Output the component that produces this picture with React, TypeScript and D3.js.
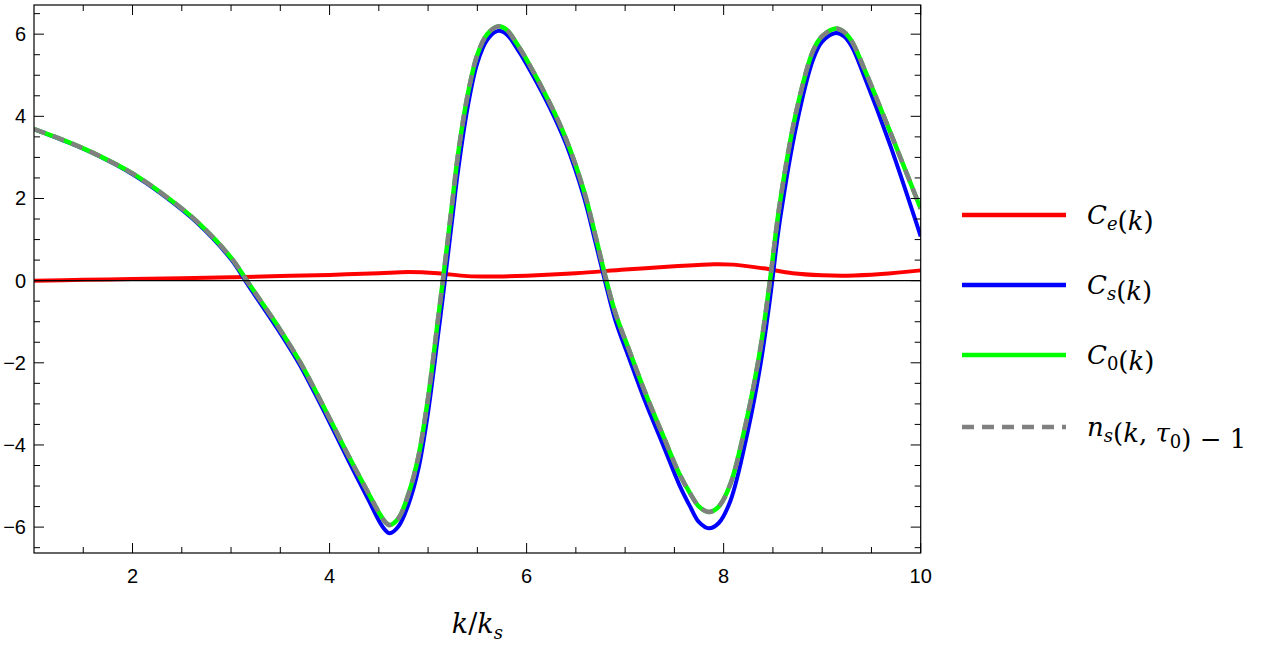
import React from "react";
import * as d3 from "d3";

// k grid shared by the three oscillating curves
const kGrid = [
  1.0, 1.3, 1.6, 2.0, 2.3, 2.65, 3.0, 3.16, 3.3, 3.5,
  3.7, 3.85, 4.0, 4.2, 4.4, 4.5, 4.56, 4.61, 4.7, 4.8,
  4.9, 5.0, 5.1, 5.15, 5.25, 5.3, 5.4, 5.5, 5.6, 5.71,
  5.8, 5.9, 6.0, 6.24, 6.4, 6.58, 6.7, 6.81, 6.9, 7.05,
  7.2, 7.39, 7.55, 7.66, 7.75, 7.85, 7.95, 8.07, 8.24, 8.37,
  8.47, 8.57, 8.74, 8.91, 9.0, 9.14, 9.22, 9.3, 9.42, 9.69,
  10.0,
];

const cZero = [
  3.69, 3.42, 3.11, 2.61, 2.12, 1.45, 0.56, 0.0, -0.49, -1.2,
  -1.98, -2.65, -3.35, -4.3, -5.2, -5.64, -5.86, -5.95, -5.78, -5.2,
  -4.3, -2.85, -0.95, 0.0, 2.0, 3.0, 4.5, 5.5, 6.0, 6.19,
  6.1, 5.77, 5.38, 4.3, 3.45, 2.2, 1.08, 0.0, -0.78, -1.75,
  -2.7, -3.8, -4.7, -5.18, -5.5, -5.63, -5.5, -4.94, -3.31, -1.69,
  0.0, 1.88, 4.15, 5.61, 5.95, 6.14, 6.06, 5.83, 5.2, 3.62,
  1.75,
];

const nsMinusOne = [
  3.69, 3.42, 3.11, 2.61, 2.12, 1.45, 0.56, 0.0, -0.49, -1.2,
  -1.98, -2.65, -3.35, -4.3, -5.2, -5.64, -5.86, -5.95, -5.78, -5.2,
  -4.3, -2.85, -0.95, 0.0, 2.0, 3.0, 4.5, 5.5, 6.0, 6.19,
  6.1, 5.77, 5.38, 4.3, 3.45, 2.2, 1.08, 0.0, -0.78, -1.75,
  -2.7, -3.8, -4.7, -5.18, -5.5, -5.63, -5.5, -4.94, -3.31, -1.69,
  0.0, 1.88, 4.15, 5.61, 5.95, 6.14, 6.06, 5.83, 5.2, 3.62,
  1.75,
];

const cS = [
  3.69, 3.41, 3.1, 2.59, 2.1, 1.42, 0.52, -0.06, -0.56, -1.28,
  -2.06, -2.74, -3.45, -4.42, -5.36, -5.84, -6.06, -6.15, -5.98, -5.45,
  -4.6, -3.2, -1.35, -0.4, 1.6, 2.6, 4.2, 5.3, 5.86, 6.08,
  5.99, 5.66, 5.27, 4.19, 3.33, 2.05, 0.92, -0.15, -0.96, -1.95,
  -2.92, -4.03, -4.97, -5.5, -5.88, -6.03, -5.9, -5.35, -3.72, -2.1,
  -0.45, 1.45, 3.8, 5.4, 5.82, 6.03, 5.95, 5.7, 5.02, 3.3,
  1.08,
];

// C_e has its own, coarser grid
const kE = [1, 1.5, 2, 2.5, 3, 3.5, 4, 4.5, 4.8, 5.1, 5.4, 5.7, 6.0, 6.5, 7.0, 7.5, 7.9, 8.1, 8.4, 8.7, 9.0, 9.25, 9.6, 10];
const cE = [0.0, 0.02, 0.04, 0.06, 0.08, 0.11, 0.14, 0.18, 0.21, 0.18, 0.11, 0.1, 0.12, 0.18, 0.27, 0.35, 0.4, 0.39, 0.3, 0.18, 0.13, 0.12, 0.16, 0.25];

const xMajor = [2, 4, 6, 8, 10];
const yMajor = [-6, -4, -2, 0, 2, 4, 6];

const W = 1264;
const H = 652;
const plot = { left: 34, right: 920.7, top: 5, bottom: 553 };

const mathFont = "'DejaVu Serif', 'Liberation Serif', serif";

function Sub({ children, italic = true }: { children: React.ReactNode; italic?: boolean }) {
  return (
    <>
      <tspan fontSize="18" dy="6" fontStyle={italic ? "italic" : "normal"}>{children}</tspan>
      <tspan dy="-6"></tspan>
    </>
  );
}

export default function App() {
  const x = d3.scaleLinear().domain([1, 10]).range([plot.left, plot.right]);
  const y = d3.scaleLinear().domain([-6.63, 6.71]).range([plot.bottom, plot.top]);

  const line = (ks: number[], vs: number[]) =>
    d3
      .line<number>()
      .x((_, i) => x(ks[i]))
      .y((v) => y(v))
      .curve(d3.curveCatmullRom.alpha(0.5))(vs) as string;

  const xMinor = d3.range(1.5, 10, 0.5).filter((v) => !xMajor.includes(v));
  const yMinor = d3.range(-6.5, 6.6, 0.5).filter((v) => !yMajor.includes(v));

  const maj = 10;
  const min = 6;

  const legend = [
    { color: "#ff0000", dash: null, label: <><tspan fontStyle="italic">C</tspan><Sub>e</Sub>(<tspan fontStyle="italic">k</tspan>)</> },
    { color: "#0000ff", dash: null, label: <><tspan fontStyle="italic">C</tspan><Sub>s</Sub>(<tspan fontStyle="italic">k</tspan>)</> },
    { color: "#00ff00", dash: null, label: <><tspan fontStyle="italic">C</tspan><Sub italic={false}>0</Sub>(<tspan fontStyle="italic">k</tspan>)</> },
    {
      color: "#808080",
      dash: "12,8",
      label: (
        <>
          <tspan fontStyle="italic">n</tspan><Sub>s</Sub>(<tspan fontStyle="italic">k</tspan>, <tspan fontStyle="italic">τ</tspan><Sub italic={false}>0</Sub>) − 1
        </>
      ),
    },
  ];
  const legendY = [215, 285, 355, 427];

  return (
    <svg width={W} height={H} style={{ position: "absolute", left: 0, top: 0, background: "#fff" }}>
      <defs>
        <clipPath id="plotClip">
          <rect x={plot.left} y={plot.top} width={plot.right - plot.left} height={plot.bottom - plot.top} />
        </clipPath>
      </defs>

      <g clipPath="url(#plotClip)" fill="none" strokeLinejoin="round">
        <path d={line(kE, cE)} stroke="#ff0000" strokeWidth={4} />
        <path d={line(kGrid, cS)} stroke="#0000ff" strokeWidth={4} />
        <path d={line(kGrid, cZero)} stroke="#00ff00" strokeWidth={4.5} />
        <path d={line(kGrid, nsMinusOne)} stroke="#808080" strokeWidth={4.5} strokeDasharray="12,8" />
        <line x1={plot.left} x2={plot.right} y1={y(0)} y2={y(0)} stroke="#000" strokeWidth={1.2} />
      </g>

      {/* frame */}
      <rect x={plot.left} y={plot.top} width={plot.right - plot.left} height={plot.bottom - plot.top} fill="none" stroke="#000" strokeWidth={1.2} />

      {/* ticks on all four sides, pointing inward */}
      <g stroke="#000" strokeWidth={1}>
        {xMajor.map((v) => (
          <g key={"xM" + v}>
            <line x1={x(v)} x2={x(v)} y1={plot.bottom} y2={plot.bottom - maj} />
            <line x1={x(v)} x2={x(v)} y1={plot.top} y2={plot.top + maj} />
          </g>
        ))}
        {xMinor.map((v) => (
          <g key={"xm" + v}>
            <line x1={x(v)} x2={x(v)} y1={plot.bottom} y2={plot.bottom - min} />
            <line x1={x(v)} x2={x(v)} y1={plot.top} y2={plot.top + min} />
          </g>
        ))}
        {yMajor.map((v) => (
          <g key={"yM" + v}>
            <line x1={plot.left} x2={plot.left + maj} y1={y(v)} y2={y(v)} />
            <line x1={plot.right} x2={plot.right - maj} y1={y(v)} y2={y(v)} />
          </g>
        ))}
        {yMinor.map((v) => (
          <g key={"ym" + v}>
            <line x1={plot.left} x2={plot.left + min} y1={y(v)} y2={y(v)} />
            <line x1={plot.right} x2={plot.right - min} y1={y(v)} y2={y(v)} />
          </g>
        ))}
      </g>

      {/* tick labels */}
      <g fontFamily="'Liberation Sans', Arial, sans-serif" fontSize={20} fill="#000">
        {xMajor.map((v) => (
          <text key={"xl" + v} x={x(v)} y={plot.bottom + 30} textAnchor="middle">
            {v}
          </text>
        ))}
        {yMajor.map((v) => (
          <text key={"yl" + v} x={plot.left - 8} y={y(v) + 7} textAnchor="end">
            {v < 0 ? "−" + Math.abs(v) : String(v)}
          </text>
        ))}
      </g>

      {/* x axis label */}
      <text x={(plot.left + plot.right) / 2} y={633} textAnchor="middle" fontFamily={mathFont} fontSize={27}>
        <tspan fontStyle="italic">k</tspan>/<tspan fontStyle="italic">k</tspan>
        <Sub>s</Sub>
      </text>

      {/* legend */}
      <g fontFamily={mathFont} fontSize={26} fill="#000">
        {legend.map((d, i) => (
          <g key={i}>
            <line
              x1={962}
              x2={1066}
              y1={legendY[i]}
              y2={legendY[i]}
              stroke={d.color}
              strokeWidth={4.5}
              strokeDasharray={d.dash ?? undefined}
            />
            <text x={1087} y={legendY[i] + 9}>
              {d.label}
            </text>
          </g>
        ))}
      </g>
    </svg>
  );
}
